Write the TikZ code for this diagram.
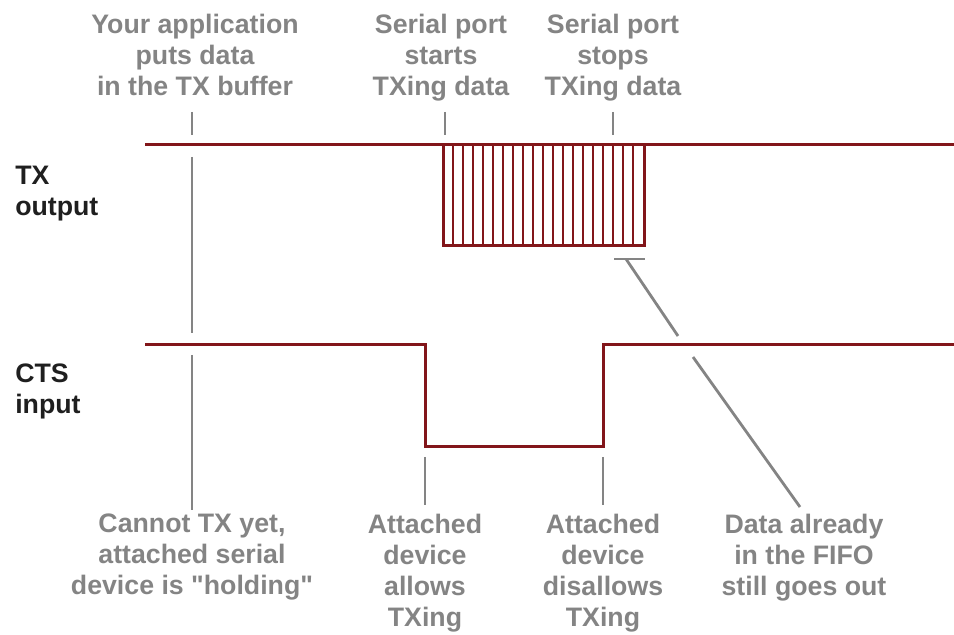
\documentclass[tikz,border=0pt]{standalone}
\usepackage{fontspec}
\setmainfont{Liberation Sans}
\definecolor{sigred}{RGB}{130,22,26}
\definecolor{notegray}{RGB}{132,132,132}
\newcommand{\dq}{\XeTeXglyph\XeTeXcharglyph"22\relax}
\tikzset{
  signal/.style={draw=sigred, line width=0.075cm},
  stripe/.style={draw=sigred, line width=0.06cm},
  marker/.style={draw=notegray, line width=0.07cm},
  note/.style={text=notegray, font=\fontsize{19}{22}\selectfont\bfseries,
    align=center, anchor=north, inner sep=0pt},
  signame/.style={text=black!88, font=\fontsize{19}{22}\selectfont\bfseries,
    align=left, anchor=north west, inner sep=0pt}
}
\begin{document}
\begin{tikzpicture}[x=0.025cm, y=-0.025cm]
            \useasboundingbox (0,0) rectangle (954,635);

            % signal names
            \node[signame] (txname) at (15,166) {TX\\output};
            \node[signame] (ctsname) at (15,364) {CTS\\input};

            % TX output with the data burst
            \draw[signal] (145,145) -- (954,145);
            \draw[signal] (443,145) -- (443,246) -- (644,246) -- (644,145);
            \foreach \x in {453,463,...,633}
                \draw[stripe] (\x,145) -- (\x,246);

            % CTS input
            \draw[signal] (145,345) -- (425,345) -- (425,447)
                -- (603,447) -- (603,345) -- (954,345);

            % notes
            \node[note] (appnote) at (195,14) {Your application\\puts data\\in the TX buffer};
            \node[note] (startnote) at (441,14) {Serial port\\starts\\TXing data};
            \node[note] (stopnote) at (613,14) {Serial port\\stops\\TXing data};
            \node[note] (holdnote) at (192,514) {Cannot TX yet,\\attached serial\\device is \dq holding\dq};
            \node[note] (allownote) at (425,514) {Attached\\device\\allows\\TXing};
            \node[note] (disallownote) at (603,514) {Attached\\device\\disallows\\TXing};
            \node[note] (fifonote) at (804,514) {Data already\\in the FIFO\\still goes out};

            % markers
            \coordinate (apptop) at (192,112);
            \coordinate (appbot) at (192,135);
            \coordinate (holdtop) at (192,157);
            \coordinate (holdmid) at (192,333);
            \coordinate (holdlow) at (192,355);
            \coordinate (holdbot) at (192,510);
            \draw[marker] (apptop) -- (appbot);
            \draw[marker] (holdtop) -- (holdmid);
            \draw[marker] (holdlow) -- (holdbot);

            \coordinate (starttop) at (445,112);
            \coordinate (startbot) at (445,135);
            \coordinate (stoptop) at (613,112);
            \coordinate (stopbot) at (613,135);
            \draw[marker] (starttop) -- (startbot);
            \draw[marker] (stoptop) -- (stopbot);

            \coordinate (allowtop) at (425,457);
            \coordinate (allowbot) at (425,505);
            \coordinate (distop) at (603,457);
            \coordinate (disbot) at (603,505);
            \draw[marker] (allowtop) -- (allowbot);
            \draw[marker] (distop) -- (disbot);

            % pointer to the FIFO tail
            \coordinate (barleft) at (614,259);
            \coordinate (barright) at (645,259);
            \coordinate (fifotop) at (626,259);
            \coordinate (fifogapa) at (678,336);
            \coordinate (fifogapb) at (693,357);
            \coordinate (fifobot) at (800,507);
            \draw[marker] (barleft) -- (barright);
            \draw[marker] (fifotop) -- (fifogapa);
            \draw[marker] (fifogapb) -- (fifobot);
\end{tikzpicture}
\end{document}
